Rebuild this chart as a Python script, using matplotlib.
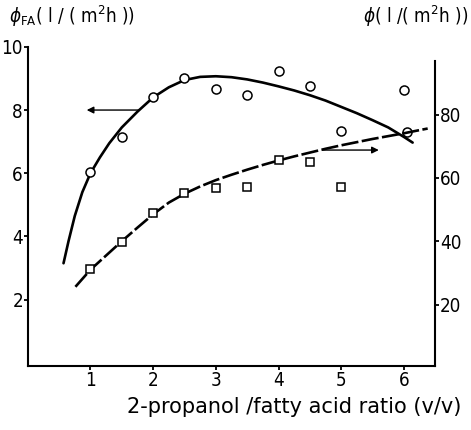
import numpy as np
import matplotlib
matplotlib.use('Agg')
import matplotlib.pyplot as plt

# ── data ────────────────────────────────────────────────────────────────────
# phi_FA (left axis), circles
fa_x = [1.0, 1.5, 2.0, 2.5, 3.0, 3.5, 4.0, 4.5, 5.0, 6.0, 6.05]
fa_y = [6.03, 7.14, 8.4, 9.02, 8.67, 8.48, 9.24, 8.76, 7.33, 8.62, 7.3]
# fitted curve for phi_FA
fa_fit_x = [0.57, 0.65, 0.75, 0.87, 1.0, 1.15, 1.3, 1.5, 1.75, 2.0, 2.25, 2.5,
            2.75, 3.0, 3.25, 3.5, 3.75, 4.0, 4.25, 4.5, 4.75, 5.0, 5.25, 5.5,
            5.75, 6.0, 6.14]
fa_fit_y = [3.15, 3.85, 4.65, 5.4, 6.0, 6.5, 6.95, 7.45, 7.95, 8.4, 8.72, 8.95,
            9.05, 9.07, 9.04, 8.97, 8.87, 8.75, 8.62, 8.47, 8.3, 8.1, 7.9, 7.68,
            7.45, 7.15, 6.97]

# phi (right axis), squares
ph_x = [1.0, 1.5, 2.0, 2.5, 3.0, 3.5, 4.0, 4.5, 5.0]
ph_y = [31.3, 39.7, 48.8, 55.3, 56.9, 57.0, 65.7, 65.0, 57.2]
# fitted curve for phi
ph_fit_x = [0.76, 1.0, 1.25, 1.5, 1.75, 2.0, 2.25, 2.5, 2.75, 3.0, 3.25, 3.5,
            3.75, 4.0, 4.25, 4.5, 4.75, 5.0, 5.25, 5.5, 5.75, 6.0, 6.2, 6.38]
ph_fit_y = [25.6, 31.0, 35.5, 40.0, 44.3, 48.5, 52.2, 55.0, 57.3, 59.3, 61.0, 62.6,
            64.1, 65.5, 66.8, 68.0, 69.2, 70.3, 71.3, 72.3, 73.2, 74.1, 74.9, 75.6]

x_ticks = [1, 2, 3, 4, 5, 6]
left_ticks = [2, 4, 6, 8, 10]
right_ticks = [20, 40, 60, 80]

# ── figure ─────────────────────────────────────────────────────────────────
plt.rcParams['font.family'] = ['DejaVu Sans']
plt.rcParams['font.stretch'] = 'condensed'
plt.rcParams['font.size'] = 13.5
plt.rcParams['mathtext.fontset'] = 'dejavusans'

fig = plt.figure(figsize=(4.71, 4.30), dpi=100)
ax = fig.add_axes([0.059, 0.149, 0.865, 0.742])
ax2 = ax.twinx()

ax.plot(fa_fit_x, fa_fit_y, color='black', lw=1.9, solid_capstyle='round')
ax.plot(fa_x, fa_y, 'o', ms=6.5, mfc='white', mec='black', mew=1.1, zorder=5)

ax2.plot(ph_fit_x, ph_fit_y, color='black', lw=1.9, ls=(0, (6.5, 1.3)))
ax2.plot(ph_x, ph_y, 's', ms=6.2, mfc='white', mec='black', mew=1.1, zorder=5)

# arrows pointing at the proper axes
ax.annotate('', xy=(0.94, 8.0), xytext=(1.78, 8.0),
            arrowprops=dict(arrowstyle='-|>', color='black', lw=1.0,
                            mutation_scale=10, shrinkA=0, shrinkB=0))
ax2.annotate('', xy=(5.6, 68.8), xytext=(4.7, 68.8),
             arrowprops=dict(arrowstyle='-|>', color='black', lw=1.0,
                             mutation_scale=10, shrinkA=0, shrinkB=0))

ax.set_xlim(0, 6.5)
ax.set_ylim(-0.1, 10)
ax2.set_ylim(0.6, 101.4)

ax.set_xticks(x_ticks)
ax.set_yticks(left_ticks)
ax2.set_yticks(right_ticks)

for a in (ax, ax2):
    a.spines['top'].set_visible(False)
    for s in a.spines.values():
        s.set_linewidth(1.5)
    a.tick_params(direction='out', length=3, width=1.3, pad=0.5)
ax2.spines['left'].set_visible(False)
ax2.spines['bottom'].set_visible(False)
ax.spines['right'].set_visible(False)
ax2.spines['right'].set_bounds(0.6, 97)

ax.set_xlabel('2-propanol /fatty acid ratio (v/v)', x=0.655, labelpad=5,
              fontsize=15, fontstretch='normal')

fig.text(0.02, 0.962, r'$\phi_{\rm FA}$( l / ( m$^2$h ))', ha='left', va='center',
         fontsize=13.5)
fig.text(0.993, 0.962, r'$\phi$( l /( m$^2$h ))', ha='right', va='center',
         fontsize=13.5)

fig.savefig('out.png', dpi=100)
